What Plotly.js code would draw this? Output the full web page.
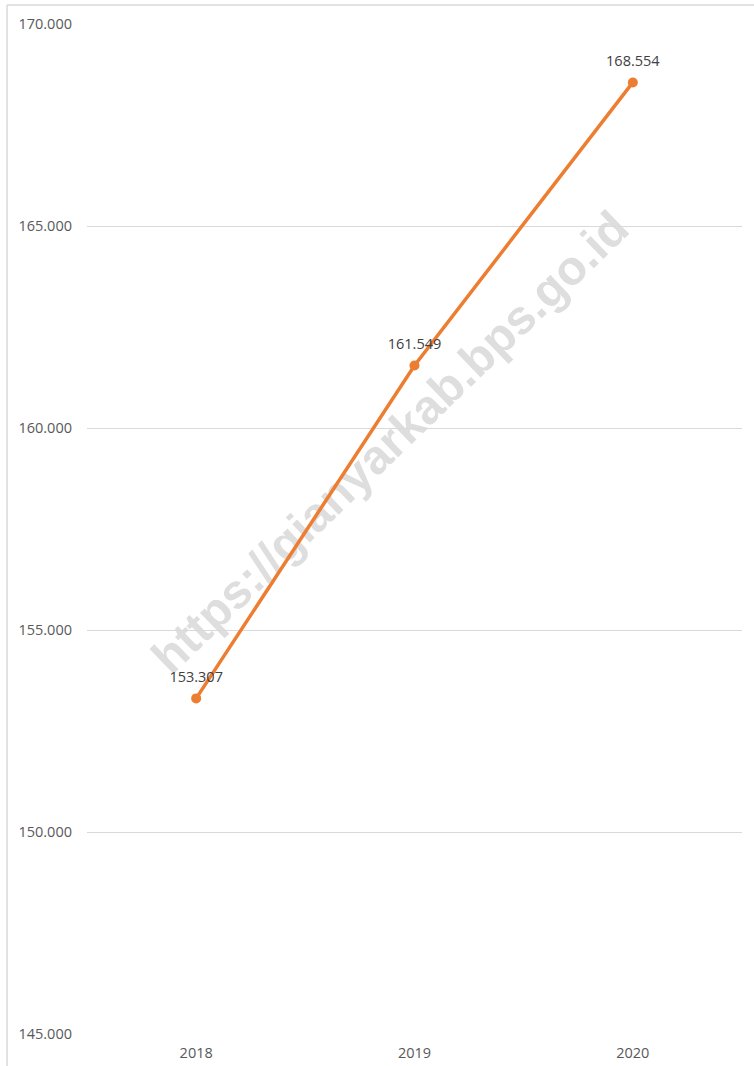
<!DOCTYPE html>
<html>
<head>
<meta charset="utf-8">
<script src="https://cdn.plot.ly/plotly-3.0.1.min.js"></script>
<style>
  html, body { margin:0; padding:0; background:#ffffff; overflow:hidden; }
  #wrap { position:relative; width:754px; height:1066px; }
  #wm { position:absolute; left:390px; top:442px; transform:translate(-50%,-50%) rotate(-44deg);
        font-family:"Liberation Sans", Arial, sans-serif; font-weight:bold; font-size:48px;
        color:#dedede; white-space:nowrap; z-index:0; }
  #chart { position:absolute; left:0; top:0; width:754px; height:1066px; z-index:1; }
</style>
</head>
<body>
<div id="wrap">
  <div id="wm">https://gianyarkab.bps.go.id</div>
  <div id="chart"></div>
</div>
<script>
var years = ["2018", "2019", "2020"];
var values = [153307, 161549, 168554];
var yTicks = [145000, 150000, 155000, 160000, 165000, 170000];

var lineTrace = {
  x: years,
  y: values,
  type: "scatter",
  mode: "lines+markers",
  line: { color: "#ED7D31", width: 3.5 },
  marker: { color: "#ED7D31", size: 10 },
  cliponaxis: false,
  hoverinfo: "skip"
};

var labelTrace = {
  x: years,
  y: values,
  type: "scatter",
  mode: "markers+text",
  marker: { color: "rgba(0,0,0,0)", size: 19 },
  texttemplate: "%{y:,d}",
  textposition: "top center",
  textfont: { family: "Open Sans, sans-serif", size: 14.5, color: "#404040" },
  cliponaxis: false,
  hoverinfo: "skip"
};

var layout = {
  width: 754,
  height: 1066,
  margin: { l: 87, r: 12, t: 24, b: 32, pad: 0 },
  paper_bgcolor: "rgba(0,0,0,0)",
  plot_bgcolor: "rgba(0,0,0,0)",
  separators: ",.",
  showlegend: false,
  font: { family: "Open Sans, sans-serif", size: 14.5, color: "#595959" },
  xaxis: {
    type: "category",
    range: [-0.5, 2.5],
    showgrid: false,
    zeroline: false,
    showline: false,
    ticks: "",
    ticklabelstandoff: 8,
    tickfont: { family: "Open Sans, sans-serif", size: 14.5, color: "#595959" }
  },
  yaxis: {
    range: [145000, 170000],
    tickvals: yTicks,
    tickformat: ",d",
    showgrid: true,
    gridcolor: "#d9d9d9",
    gridwidth: 1,
    zeroline: false,
    showline: false,
    ticks: "",
    ticklabelstandoff: 14,
    tickfont: { family: "Open Sans, sans-serif", size: 14.5, color: "#595959" }
  },
  shapes: [
    { type: "line", xref: "paper", yref: "paper", x0: -0.1221, x1: -0.1221, y0: -0.05, y1: 1.0188,
      line: { color: "#d9d9d9", width: 1.5 } },
    { type: "line", xref: "paper", yref: "paper", x0: -0.1221, x1: 1.1, y0: 1.0188, y1: 1.0188,
      line: { color: "#d9d9d9", width: 1.5 } }
  ]
};

Plotly.newPlot("chart", [lineTrace, labelTrace], layout, { displayModeBar: false, staticPlot: true });
</script>
</body>
</html>
